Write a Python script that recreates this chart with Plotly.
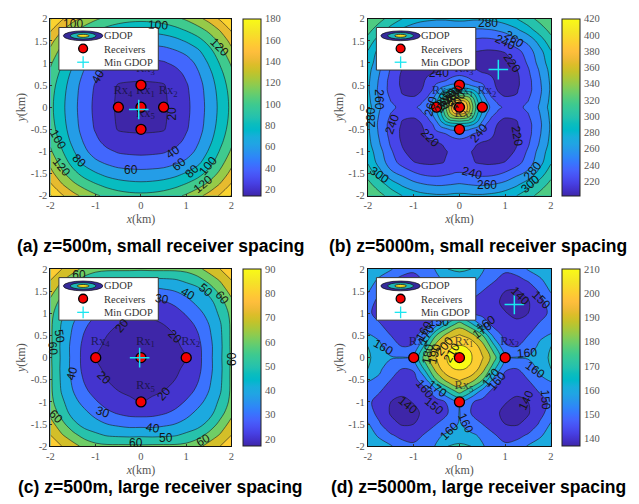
import numpy as np
import plotly.graph_objects as go

# ---------- data (one quadrant of each symmetric GDOP surface, rows = y, cols = x) ----------
Q_COARSE = [0, .25, .5, .75, 1, 1.25, 1.5, 1.75, 2]
Q_FINE = [0, .1, .2, .3, .4, .5, .6, .7, .85, 1, 1.25, 1.5, 1.75, 2]

GDOP_A = [
    [14, 15, 18, 24, 35, 50, 66, 85, 105],
    [15, 15.5, 18, 25, 36, 50.5, 67, 86, 106],
    [18, 18, 19, 27, 38, 52, 69, 89, 109],
    [24, 25, 27, 32, 44, 57, 74, 94, 115],
    [35, 36, 38, 44, 51, 64, 82, 102, 123],
    [50, 50.5, 52, 57, 64, 75, 92, 112, 134],
    [66, 67, 69, 74, 82, 92, 107, 125, 147],
    [85, 86, 89, 94, 102, 112, 125, 142, 163],
    [105, 106, 109, 115, 123, 134, 147, 163, 182],
]
GDOP_B = [
    [425, 405, 372, 338, 308, 285, 268, 255, 243, 237, 236, 243, 262, 288],
    [400, 395, 365, 332, 303, 280, 263, 250, 238, 230, 232, 241, 260, 286],
    [362, 360, 350, 322, 294, 272, 255, 242, 230, 223, 226, 238, 258, 285],
    [325, 322, 318, 305, 283, 262, 246, 235, 222, 216, 220, 235, 256, 284],
    [290, 288, 285, 278, 268, 250, 237, 228, 218, 213, 218, 233, 255, 283],
    [265, 264, 262, 255, 250, 243, 234, 225, 216, 211, 216, 233, 256, 283],
    [250, 249, 246, 240, 236, 234, 231, 224, 214, 209, 216, 233, 257, 284],
    [241, 240, 236, 233, 228, 225, 224, 220, 212, 208, 216, 235, 259, 285],
    [232, 231, 228, 223, 219, 216, 214, 212, 207, 208, 219, 238, 262, 287],
    [230, 226, 222, 219, 216, 213, 211, 209, 208, 210, 223, 243, 267, 291],
    [232, 229, 225, 221, 219, 218, 217, 217, 218, 221, 232, 250, 272, 298],
    [241, 241, 239, 237, 235, 234, 234, 235, 238, 243, 255, 265, 288, 313],
    [262, 261, 260, 259, 258, 258, 259, 260, 263, 267, 277, 292, 310, 326],
    [285, 285, 284, 283, 283, 283, 284, 285, 287, 291, 300, 313, 326, 340],
]
GDOP_C = [
    [17, 17.5, 18, 19, 20, 26.5, 36.5, 48, 61.5],
    [17.5, 17.5, 18, 19, 21, 27, 36.5, 47.5, 62],
    [18, 18, 18.5, 20, 23, 29, 38, 48, 62],
    [19, 19, 20, 22, 26, 32, 40, 49, 62],
    [20, 21, 23, 26, 31, 37, 43, 52, 63],
    [26.5, 27, 29, 32, 37, 42, 46, 56, 67],
    [36.5, 36.5, 38, 40, 43, 46, 53, 63, 74],
    [48, 47.5, 48, 49, 52, 56, 63, 71, 80],
    [61.5, 62, 62, 62, 63, 67, 74, 80, 85],
]
GDOP_D = [
    [214, 211, 201, 185, 160, 160.5, 161, 164, 172],
    [211, 209, 195, 173, 151, 150, 154, 162, 170],
    [201, 195, 181, 157, 147, 146.5, 150, 158, 161],
    [185, 173, 157, 147, 143, 142, 145, 151, 155],
    [160, 151, 147, 143, 140.5, 138, 140, 146, 152],
    [160.5, 150, 146.5, 142, 138, 137, 139, 147, 154],
    [161, 154, 150, 145, 140, 139, 143, 151, 161],
    [164, 162, 158, 151, 146, 147, 151, 158, 165],
    [172, 170, 161, 155, 152, 154, 161, 165, 168],
]

RX_SMALL_X = [0, .5, 0, -.5, 0]
RX_SMALL_Y = [0, 0, .5, 0, -.5]
RX_LARGE_X = [0, 1, 0, -1, 0]
RX_LARGE_Y = [0, 0, 1, 0, -1]
RX_NAMES = ["Rx<sub>1</sub>", "Rx<sub>2</sub>", "Rx<sub>3</sub>", "Rx<sub>4</sub>", "Rx<sub>5</sub>"]

MIN_A = (-.05, -.05)
MIN_B = (.85, .85)
MIN_C = (-.03, 0)
MIN_D = (1.2, 1.2)

X_TICKS = [-2, -1, 0, 1, 2]
X_TICK_TEXT = ["-2", "-1", "0", "1", "2"]
Y_TICKS = [-2, -1.5, -1, -.5, 0, .5, 1, 1.5, 2]
Y_TICK_TEXT = ["-2", "-1.5", "-1", "-0.5", "0", "0.5", "1", "1.5", "2"]

CAPTIONS = ["(a) z=500m, small receiver spacing", "(b) z=5000m, small receiver spacing",
            "(c) z=500m, large receiver spacing", "(d) z=5000m, large receiver spacing"]
LEGEND_LABELS = ["GDOP", "Receivers", "Min GDOP"]

LABELS_A = [("100",.38,1.86,3),("120",1.73,1.35,45),("40",-.96,.69,-60),("20",.68,-.15,-90),("40",.71,-1.01,-35),
            ("60",-.21,-1.42,0),("60",.85,-1.28,-40),("80",1.13,-1.44,-45),("100",1.48,-1.33,-50),("120",1.38,-1.74,-40),
            ("100",-1.84,-.72,60),("80",-1.36,-1.22,45),("120",-1.76,-1.36,50)]
LABELS_B = [("280",.63,1.9,0),("260",1.19,1.54,35),("240",.99,1.47,25),("220",1.15,1.0,55),("260",-1.75,.17,90),
            ("280",-1.93,-.23,-90),("240",-1.47,-.38,-70),("260",-.62,.02,-75),("220",-.64,-.69,45),("240",.43,-.59,-50),
            ("220",1.26,-.65,80),("240",.27,-1.49,15),("260",.61,-1.75,0),("300",-1.75,-1.54,35),("280",1.59,-1.43,-50),
            ("300",1.55,-1.73,-40),("280",-.4,.1,-70),("300",-.34,.14,-65),("320",-.28,.17,-60),("340",-.22,.2,-60),
            ("360",-.16,.24,-60),("380",-.1,.28,-60),("400",-.05,.15,-60)]
LABELS_C = [("30",.47,1.33,10),("40",1.05,1.44,30),("50",1.43,1.53,40),("60",1.8,1.34,50),("20",-.41,.73,-50),
            ("20",.76,.47,45),("50",-1.8,.49,80),("60",-1.94,.2,85),("60",2.0,-.02,-90),("40",-1.52,-.35,-75),
            ("20",-.81,-.46,45),("20",.5,-.82,-50),("30",-.85,-1.23,20),("40",.27,-1.58,10),("50",.55,-1.81,0),
            ("60",-.12,-1.94,0),("60",1.38,-1.85,-30),("60",-1.87,-1.34,45)]
LABELS_D = [("140",1.33,1.39,45),("150",1.79,1.3,45),("160",.57,.75,-35),("170",.5,.63,-35),("160",-1.67,.23,30),
            ("170",-.72,.5,-60),("160",-.77,.6,-60),("180",-.7,.09,-80),("190",-.55,.09,-75),("200",-.33,.27,-50),
            ("210",-.17,.1,-60),("160",1.48,.1,-5),("160",1.66,-.28,35),("170",.68,-.46,-50),("160",.83,-.53,-50),
            ("150",1.88,-.96,85),("140",1.46,-.96,-65),("160",-.75,-.7,50),("170",-.48,-.71,35),("150",-.55,-1.09,40),
            ("140",-1.13,-1.06,40),("160",.14,-1.47,65),("160",-.22,-1.65,-45)]
# contour labels that the legend box partly covers in the reference
COVERED_A = [("100", -1.5, 1.86)]
COVERED_B = [("240", -.45, .76)]
COVERED_C = [("60", -1.37, 1.84)]
COVERED_D = [("150", -.45, .78)]

PARULA = np.array([[.2422,.1504,.6603],[.2647,.1978,.7952],[.2783,.2559,.8991],[.2810,.3228,.9579],[.2699,.3892,.9906],
          [.2206,.4603,.9973],[.1786,.5289,.9682],[.1540,.5902,.9218],[.1248,.6459,.8883],[.0952,.6798,.8598],
          [.0036,.7203,.7917],[.0433,.7411,.7394],[.1408,.7584,.6842],[.1938,.7758,.6251],[.2470,.7918,.5567],
          [.3406,.8008,.4789],[.4456,.8024,.3909],[.5616,.7942,.3045],[.6720,.7793,.2227],[.7738,.7598,.1646],
          [.8634,.7406,.1596],[.9393,.7288,.2100],[.9956,.7434,.2371],[.9952,.7893,.2028],[.9786,.8386,.1766],
          [.9610,.8890,.1537],[.9628,.9373,.1265],[.9769,.9839,.0805]])
P_POS = np.linspace(0, 1, len(PARULA))
SCALE = [[float(a), "rgb(%d,%d,%d)" % tuple(round(255 * c) for c in p)] for a, p in zip(P_POS, PARULA)]

W, H = 639, 504
SERIF = "Liberation Serif"
SANS = "Liberation Sans"
TICK_COLOR = "#555555"


def parula_at(f):
    return "rgb(%d,%d,%d)" % tuple(round(255 * np.interp(f, P_POS, PARULA[:, c])) for c in range(3))


def band_scale(levels, lo, hi):
    """Plotly fills the n+1 bands of n levels with colourscale stops at k/n; give each band the
    colour of its lower level, as the reference does."""
    n = len(levels)
    lowers = [lo] + list(levels)
    return [[k / n, parula_at((v - lo) / (hi - lo))] for k, v in enumerate(lowers)]


def mirror(quad, q):
    """Extend a typed quadrant to all four quadrants (the surfaces are symmetric)."""
    q = np.array(q, float)
    t = np.array(quad, float)
    t = np.hstack([t[:, :0:-1], t])
    t = np.vstack([t[:0:-1, :], t])
    return np.concatenate([-q[:0:-1], q]), t


PANELS = [
    dict(q=Q_COARSE, t=GDOP_A, box=(47, 230, 14, 195), cb=(242, 260), rng=(14, 180), step=20,
         ticks=list(range(20, 181, 20)), rx=(RX_SMALL_X, RX_SMALL_Y), best=MIN_A, labels=LABELS_A, covered=COVERED_A, cap=(158, 246)),
    dict(q=Q_FINE, t=GDOP_B, box=(368, 553, 14, 195), cb=(564, 582), rng=(202, 420), step=20,
         ticks=list(range(220, 421, 20)), rx=(RX_SMALL_X, RX_SMALL_Y), best=MIN_B, labels=LABELS_B, covered=COVERED_B, cap=(479, 246)),
    dict(q=Q_COARSE, t=GDOP_C, box=(47, 230, 270, 451), cb=(242, 260), rng=(17, 90), step=10,
         ticks=list(range(20, 91, 10)), rx=(RX_LARGE_X, RX_LARGE_Y), best=MIN_C, labels=LABELS_C, covered=COVERED_C, cap=(158, 493)),
    dict(q=Q_COARSE, t=GDOP_D, box=(368, 553, 270, 451), cb=(564, 582), rng=(136.8, 210), step=10,
         ticks=list(range(140, 211, 10)), rx=(RX_LARGE_X, RX_LARGE_Y), best=MIN_D, labels=LABELS_D, covered=COVERED_D, cap=(480, 493)),
]

fig = go.Figure()
shapes, annots = [], []


def px(x):
    return x / W


def py(y):
    return 1 - y / H


def paper_shape(kind, x0, y0, x1, y1, **kw):
    shapes.append(dict(type=kind, xref="paper", yref="paper", x0=px(x0), x1=px(x1), y0=py(y0), y1=py(y1),
                       layer="above", **kw))


for i, p in enumerate(PANELS, start=1):
    xa, ya = f"x{i}", f"y{i}"
    l, r, t, b = p["box"]
    coords, surface = mirror(p["t"], p["q"])
    lo, hi = p["rng"]
    fig.add_trace(go.Contour(
        x=coords, y=coords, z=surface, xaxis=xa, yaxis=ya, colorscale=band_scale(p["ticks"], lo, hi),
        showscale=False, hoverinfo="skip",
        contours=dict(start=p["ticks"][0], end=p["ticks"][-1], size=p["step"], coloring="fill", showlabels=False),
        line=dict(color="#1c1c1c", width=0.6, smoothing=1),
    ))
    # continuous colour bar
    fig.add_trace(go.Scatter(
        x=[0, 0], y=[0, 0], xaxis=xa, yaxis=ya, mode="markers", hoverinfo="skip", showlegend=False,
        marker=dict(size=0.1, opacity=0, color=[lo, hi], cmin=lo, cmax=hi, colorscale=SCALE, showscale=True,
                    colorbar=dict(x=px(p["cb"][0]), xanchor="left", thickness=p["cb"][1] - p["cb"][0], thicknessmode="pixels",
                                  y=py(b), yanchor="bottom", len=(b - t) / H, lenmode="fraction", xpad=0, ypad=0,
                                  outlinewidth=1, outlinecolor="#222", tickvals=p["ticks"], ticks="outside", ticklen=2,
                                  tickcolor="rgba(0,0,0,0)",
                                  tickfont=dict(family=SERIF, size=10.5, color=TICK_COLOR))),
    ))
    rx_x, rx_y = p["rx"]
    fig.add_trace(go.Scatter(
        x=[c[1] for c in p["covered"]], y=[c[2] for c in p["covered"]], xaxis=xa, yaxis=ya, mode="text",
        text=[c[0] for c in p["covered"]], textfont=dict(family=SANS, size=12, color="#151515"),
        hoverinfo="skip", showlegend=False,
    ))
    fig.add_trace(go.Scatter(
        x=[v + .1 for v in rx_x], y=[v + .36 for v in rx_y], xaxis=xa, yaxis=ya, mode="text", text=RX_NAMES,
        textfont=dict(family=SERIF, size=12.5, color="rgba(15,15,40,.72)"), hoverinfo="skip", showlegend=False,
    ))
    fig.add_trace(go.Scatter(
        x=rx_x, y=rx_y, xaxis=xa, yaxis=ya, mode="markers", hoverinfo="skip", showlegend=False,
        marker=dict(size=10, color="#f50000", line=dict(color="black", width=1.3)),
    ))
    fig.add_trace(go.Scatter(
        x=[p["best"][0]], y=[p["best"][1]], xaxis=xa, yaxis=ya, mode="markers", hoverinfo="skip", showlegend=False,
        marker=dict(size=14, symbol="cross-thin", line=dict(color="#19e6f0", width=1.5)),
    ))
    fig.update_layout({
        f"xaxis{i}": dict(domain=[px(l), px(r)], range=[-2, 2], anchor=ya, tickvals=X_TICKS, ticktext=X_TICK_TEXT,
                          ticks="inside", ticklen=2, tickcolor="#333", showline=True, linecolor="#111", linewidth=1,
                          mirror=True, showgrid=False, zeroline=False, tickangle=0,
                          tickfont=dict(family=SERIF, size=10.5, color=TICK_COLOR),
                          title=dict(text="<i>x</i>(km)", standoff=4, font=dict(family=SERIF, size=12, color=TICK_COLOR))),
        f"yaxis{i}": dict(domain=[py(b), py(t)], range=[-2, 2], anchor=xa, tickvals=Y_TICKS, ticktext=Y_TICK_TEXT,
                          ticks="inside", ticklen=2, tickcolor="#333", showline=True, linecolor="#111", linewidth=1,
                          mirror=True, showgrid=False, zeroline=False,
                          tickfont=dict(family=SERIF, size=10.5, color=TICK_COLOR),
                          title=dict(text="<i>y</i>(km)", standoff=2, font=dict(family=SERIF, size=12, color=TICK_COLOR))),
    })
    for text, x, y, ang in p["labels"]:
        annots.append(dict(text=text, x=x, y=y, xref=xa, yref=ya, textangle=ang, showarrow=False,
                           font=dict(family=SANS, size=12, color="#151515")))
    # hand-built legend box
    lx = l + 8.5
    ly = t + 9 if i <= 2 else t + 8.7
    paper_shape("rect", lx, ly, lx + 100.5, ly + 43.5, fillcolor="white", line=dict(color="#333", width=1))
    cx, cy = lx + 24.5, ly + 8.5
    for w_, h_, col in [(20, 5, "#352a9a"), (13, 3.3, "#1fb5b5"), (6, 1.5, "#f5e020")]:
        paper_shape("circle", cx - w_, cy - h_, cx + w_, cy + h_, fillcolor=col, line=dict(color="#111", width=.7))
    paper_shape("circle", cx - 4.5, ly + 17, cx + 4.5, ly + 26, fillcolor="#f50000", line=dict(color="black", width=1.3))
    paper_shape("line", cx - 6, ly + 35.5, cx + 6, ly + 35.5, line=dict(color="#19e6f0", width=1.3))
    paper_shape("line", cx, ly + 29.5, cx, ly + 41.5, line=dict(color="#19e6f0", width=1.3))
    for k, lab in enumerate(LEGEND_LABELS):
        annots.append(dict(text=lab, x=px(lx + 43.5), y=py(ly + 8.5 + 13.5 * k), xref="paper", yref="paper",
                           xanchor="left", yanchor="middle", showarrow=False,
                           font=dict(family=SERIF, size=10.5, color="#333")))
    annots.append(dict(text=CAPTIONS[i - 1], x=px(p["cap"][0]), y=py(p["cap"][1]), xref="paper", yref="paper",
                       xanchor="center", yanchor="middle", showarrow=False,
                       font=dict(family=SANS, size=17.5, color="black", weight="bold")))

fig.update_layout(width=W, height=H, margin=dict(l=0, r=0, t=0, b=0), paper_bgcolor="white", plot_bgcolor="white",
                  showlegend=False, shapes=shapes, annotations=annots)
fig.write_html("out.html", config={"displayModeBar": False},
               post_script="document.body.style.margin='0';document.body.style.overflow='hidden';")
